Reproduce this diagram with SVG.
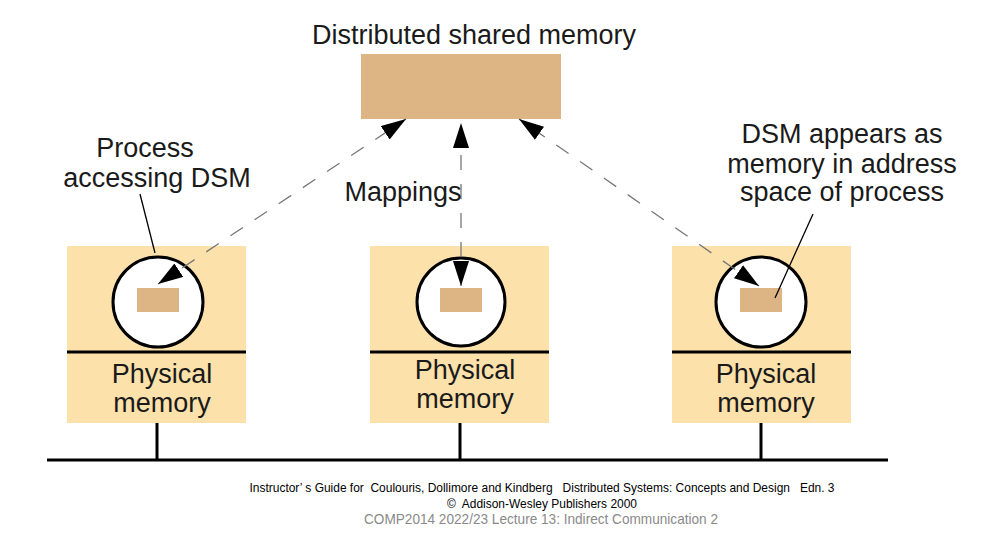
<svg xmlns="http://www.w3.org/2000/svg" width="986" height="544" viewBox="0 0 986 544">
<style>
.lbl{font-family:"Liberation Sans",Arial,sans-serif;font-size:27px;fill:#1a1a1a;text-anchor:middle}
.box{fill:#FCE1AB}
.dsm{fill:#DDB584}
.proc{fill:#fff;stroke:#000;stroke-width:3}
.sep{stroke:#000;stroke-width:3}
.wire{stroke:#000;stroke-width:3;fill:none}
.map{stroke:#777;stroke-width:1.3;stroke-dasharray:15 14;fill:none}
.lead{stroke:#000;stroke-width:1.3;fill:none}
.foot{font-family:"Liberation Sans",Arial,sans-serif;font-size:13.5px;text-anchor:middle;fill:#000}
</style>
<defs>
<marker id="ah" markerUnits="userSpaceOnUse" markerWidth="26" markerHeight="16" refX="25" refY="8" orient="auto-start-reverse" viewBox="0 0 26 16">
<path d="M0,0 L25,8 L0,16 z" fill="#000"/>
</marker>
</defs>
<rect width="986" height="544" fill="#fff"/>

<g id="shared-memory">
<rect class="dsm" x="361" y="54" width="200" height="65"/>
<text class="lbl" x="474" y="44">Distributed shared memory</text>
</g>

<g id="node-left">
<rect class="box" x="67" y="246" width="179" height="177"/>
<circle class="proc" cx="158" cy="302" r="45"/>
<rect class="dsm" x="137" y="288" width="42" height="24"/>
<line class="sep" x1="67" y1="352" x2="246" y2="352"/>
<text class="lbl" x="162" y="383">Physical</text>
<text class="lbl" x="162" y="412">memory</text>
</g>

<g id="node-middle">
<rect class="box" x="370" y="246" width="179" height="177"/>
<circle class="proc" cx="461" cy="302" r="44"/>
<rect class="dsm" x="440" y="288" width="42" height="24"/>
<line class="sep" x1="370" y1="352" x2="549" y2="352"/>
<text class="lbl" x="465" y="379">Physical</text>
<text class="lbl" x="465" y="408">memory</text>
</g>

<g id="node-right">
<rect class="box" x="672" y="246" width="179" height="177"/>
<circle class="proc" cx="761" cy="302" r="45"/>
<rect class="dsm" x="740" y="288" width="42" height="24"/>
<line class="sep" x1="672" y1="352" x2="851" y2="352"/>
<text class="lbl" x="766" y="383">Physical</text>
<text class="lbl" x="766" y="412">memory</text>
</g>

<g id="network">
<line class="wire" x1="47" y1="460" x2="888" y2="460"/>
<line class="wire" x1="157" y1="423" x2="157" y2="460"/>
<line class="wire" x1="460" y1="423" x2="460" y2="460"/>
<line class="wire" x1="761" y1="423" x2="761" y2="460"/>
</g>

<g id="connectors">
<path class="map" d="M158,284 L406,119" marker-start="url(#ah)" marker-end="url(#ah)"/>
<path class="map" d="M461,286 L461,123" marker-start="url(#ah)" marker-end="url(#ah)"/>
<path class="map" d="M759,286 L519,119" marker-start="url(#ah)" marker-end="url(#ah)"/>
<line class="lead" x1="140" y1="194" x2="155" y2="253"/>
<line class="lead" x1="813" y1="214" x2="775" y2="298"/>
</g>

<g id="labels">
<text class="lbl" x="145" y="157">Process</text>
<text class="lbl" x="157" y="187">accessing DSM</text>
<text class="lbl" x="403" y="201">Mappings</text>
<text class="lbl" x="842" y="143">DSM appears as</text>
<text class="lbl" x="842" y="173">memory in address</text>
<text class="lbl" x="842" y="201">space of process</text>
</g>

<g id="footer">
<text class="foot" x="542" y="492" textLength="585" lengthAdjust="spacingAndGlyphs" xml:space="preserve">Instructor’ s Guide for  Coulouris, Dollimore and Kindberg   Distributed Systems: Concepts and Design   Edn. 3</text>
<text class="foot" x="542" y="508" textLength="190" lengthAdjust="spacingAndGlyphs" xml:space="preserve">©  Addison-Wesley Publishers 2000</text>
<text class="foot" x="541" y="524" textLength="354" lengthAdjust="spacingAndGlyphs" style="fill:#8a8a8a;font-size:14.5px">COMP2014 2022/23 Lecture 13: Indirect Communication 2</text>
</g>
</svg>
